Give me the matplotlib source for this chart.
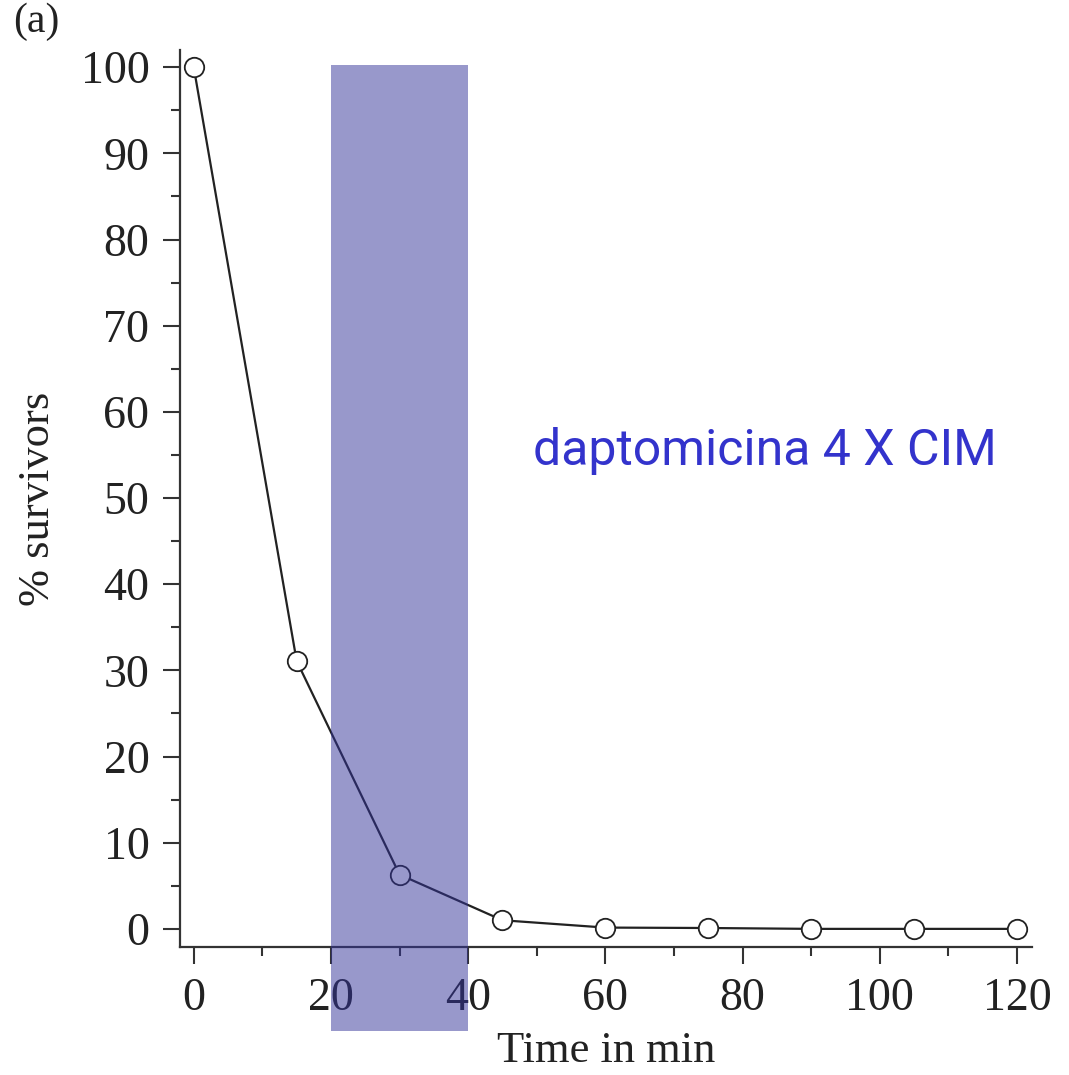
import matplotlib
matplotlib.use("Agg")
import matplotlib.pyplot as plt
from matplotlib.patches import Rectangle
from matplotlib.ticker import MultipleLocator

# survival curve
time_min = [0, 15, 30, 45, 60, 75, 90, 105, 120]
survivors = [100, 31.1, 6.3, 1.0, 0.15, 0.1, 0.0, 0.0, 0.0]

# exposure window
window_start = 20
window_end = 40

SERIF = ["Liberation Serif", "DejaVu Serif"]
AXIS_COLOR = "#333333"

fig = plt.figure(figsize=(10.69, 10.75), dpi=100)
ax = fig.add_axes([0.1684, 0.1191, 0.797, 0.8344])

ax.plot(time_min, survivors, color="#222222", linewidth=1.6,
        marker="o", markersize=14, markerfacecolor="white",
        markeredgecolor="#222222", markeredgewidth=1.3, zorder=3)

ax.set_xlim(-2, 122.2)
ax.set_ylim(-2.1, 102)

ax.xaxis.set_major_locator(MultipleLocator(20))
ax.xaxis.set_minor_locator(MultipleLocator(10))
ax.yaxis.set_major_locator(MultipleLocator(10))
ax.yaxis.set_minor_locator(MultipleLocator(5))

for side in ["top", "right"]:
    ax.spines[side].set_visible(False)
for side in ["left", "bottom"]:
    ax.spines[side].set_linewidth(1.6)
    ax.spines[side].set_color(AXIS_COLOR)

ax.tick_params(which="major", direction="out", length=12, width=1.5,
               color=AXIS_COLOR, pad=10, labelsize=33)
ax.tick_params(which="minor", direction="out", length=6.5, width=1.5,
               color=AXIS_COLOR)
for lbl in ax.get_xticklabels() + ax.get_yticklabels():
    lbl.set_family(SERIF)
    lbl.set_color("#222222")

ax.set_xlabel("Time in min", fontsize=32, family=SERIF, color="#222222",
              labelpad=8)
ax.set_ylabel("% survivors", fontsize=32, family=SERIF, color="#222222",
              labelpad=16)

# shaded exposure band, drawn over everything and past the axis
band = Rectangle((window_start, -11.9), window_end - window_start, 112.1,
                 facecolor="#333399", alpha=0.5, edgecolor="none",
                 clip_on=False, zorder=10)
ax.add_patch(band)

ax.text(49.4, 53.8, "daptomicina 4 X CIM", fontsize=36,
        family=["Roboto", "DejaVu Sans"],
        color="#3333CC", ha="left", va="baseline")

fig.text(0.012, 0.962, "(a)", fontsize=30, family=SERIF, color="#222222",
         ha="left", va="bottom")

fig.savefig("out.png", dpi=100)
